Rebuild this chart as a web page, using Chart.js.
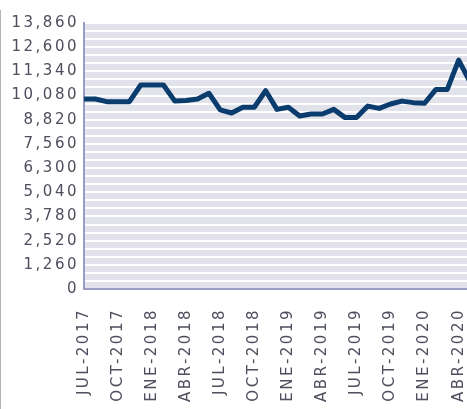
<!DOCTYPE html>
<html lang="es">
<head>
    <meta charset="utf-8">
    <script src="https://cdn.jsdelivr.net/npm/chart.js@4.4.1/dist/chart.umd.min.js"></script>
    <style>
        html, body { margin: 0; padding: 0; background: #fff; overflow: hidden; }
        #wrap { position: absolute; left: 0; top: 0; width: 470px; height: 409px; }
        #edge { position: absolute; left: 0; top: 10px; bottom: 0; width: 1px; background: #b4b4b4; }
    </style>
</head>

<body>

<div id="wrap"><canvas id="myChart"></canvas></div>
<div id="edge"></div>
<script>
    const months = [
        'JUL-2017', 'AGO-2017', 'SEP-2017', 'OCT-2017', 'NOV-2017', 'DIC-2017',
        'ENE-2018', 'FEB-2018', 'MAR-2018', 'ABR-2018', 'MAY-2018', 'JUN-2018',
        'JUL-2018', 'AGO-2018', 'SEP-2018', 'OCT-2018', 'NOV-2018', 'DIC-2018',
        'ENE-2019', 'FEB-2019', 'MAR-2019', 'ABR-2019', 'MAY-2019', 'JUN-2019',
        'JUL-2019', 'AGO-2019', 'SEP-2019', 'OCT-2019', 'NOV-2019', 'DIC-2019',
        'ENE-2020', 'FEB-2020', 'MAR-2020', 'ABR-2020', 'MAY-2020'
    ];
    const values = [
        9900, 9900, 9760, 9760, 9760, 10630,
        10630, 10630, 9790, 9820, 9900, 10200,
        9330, 9170, 9470, 9470, 10330, 9360,
        9470, 9010, 9120, 9120, 9360, 8930,
        8930, 9530, 9410, 9640, 9790, 9710,
        9680, 10400, 10400, 11930, 10790
    ];
    const yMax = 13860;
    const yStep = 420;
    const yLabelStep = 1260;

    const font = { family: 'DejaVu Sans', size: 15 };
    const textColor = '#4e4e5e';
    const axisColor = '#9a9cc4';
    const letterGap = '2.5px';

    // letter spacing gets reset whenever the canvas is resized
    const spacing = {
        id: 'spacing',
        beforeUpdate: chart => { chart.ctx.letterSpacing = letterGap; },
        beforeLayout: chart => { chart.ctx.letterSpacing = letterGap; },
        beforeDraw: chart => {
            const ctx = chart.ctx, a = chart.chartArea;
            ctx.letterSpacing = letterGap;
            ctx.save();
            ctx.fillStyle = '#e1e2ea';
            ctx.fillRect(a.left, a.top, a.right - a.left, a.bottom - a.top);
            ctx.restore();
        }
    };

    const config = {
        type: 'line',
        data: {
            labels: months,
            datasets: [{
                data: values,
                borderColor: '#0a3c6e',
                borderWidth: 5,
                borderJoinStyle: 'round',
                pointRadius: 0,
                tension: 0,
                fill: false
            }]
        },
        options: {
            responsive: true,
            maintainAspectRatio: false,
            animation: false,
            layout: { padding: { top: 23, left: 0, right: 0, bottom: 0 } },
            plugins: { legend: { display: false }, tooltip: { enabled: false } },
            scales: {
                x: {
                    offset: false,
                    grid: { display: false },
                    border: { color: axisColor, width: 2 },
                    ticks: {
                        autoSkip: false,
                        minRotation: 90,
                        maxRotation: 90,
                        padding: 11,
                        font: font,
                        color: textColor,
                        callback: function(v, i) {
                            return i % 3 === 0 ? this.getLabelForValue(v) : '';
                        }
                    },
                    afterFit: s => {
                        s.height = 120;
                        s.paddingLeft = 0;
                        s.paddingRight = 0;
                    }
                },
                y: {
                    min: 0,
                    max: yMax,
                    grid: { color: '#ffffff', lineWidth: 2, drawTicks: false },
                    border: { color: axisColor, width: 2 },
                    ticks: {
                        stepSize: yStep,
                        autoSkip: false,
                        maxTicksLimit: 40,
                        padding: 5,
                        font: font,
                        color: textColor,
                        callback: v => v % yLabelStep === 0 ? v.toLocaleString('en-US') : ''
                    },
                    afterFit: s => {
                        s.width = 84;
                        s.paddingTop = 0;
                        s.paddingBottom = 0;
                    }
                }
            }
        },
        plugins: [spacing]
    };

    const myChart = new Chart(
        document.getElementById('myChart'),
        config
    );
</script>
</body>
</html>
